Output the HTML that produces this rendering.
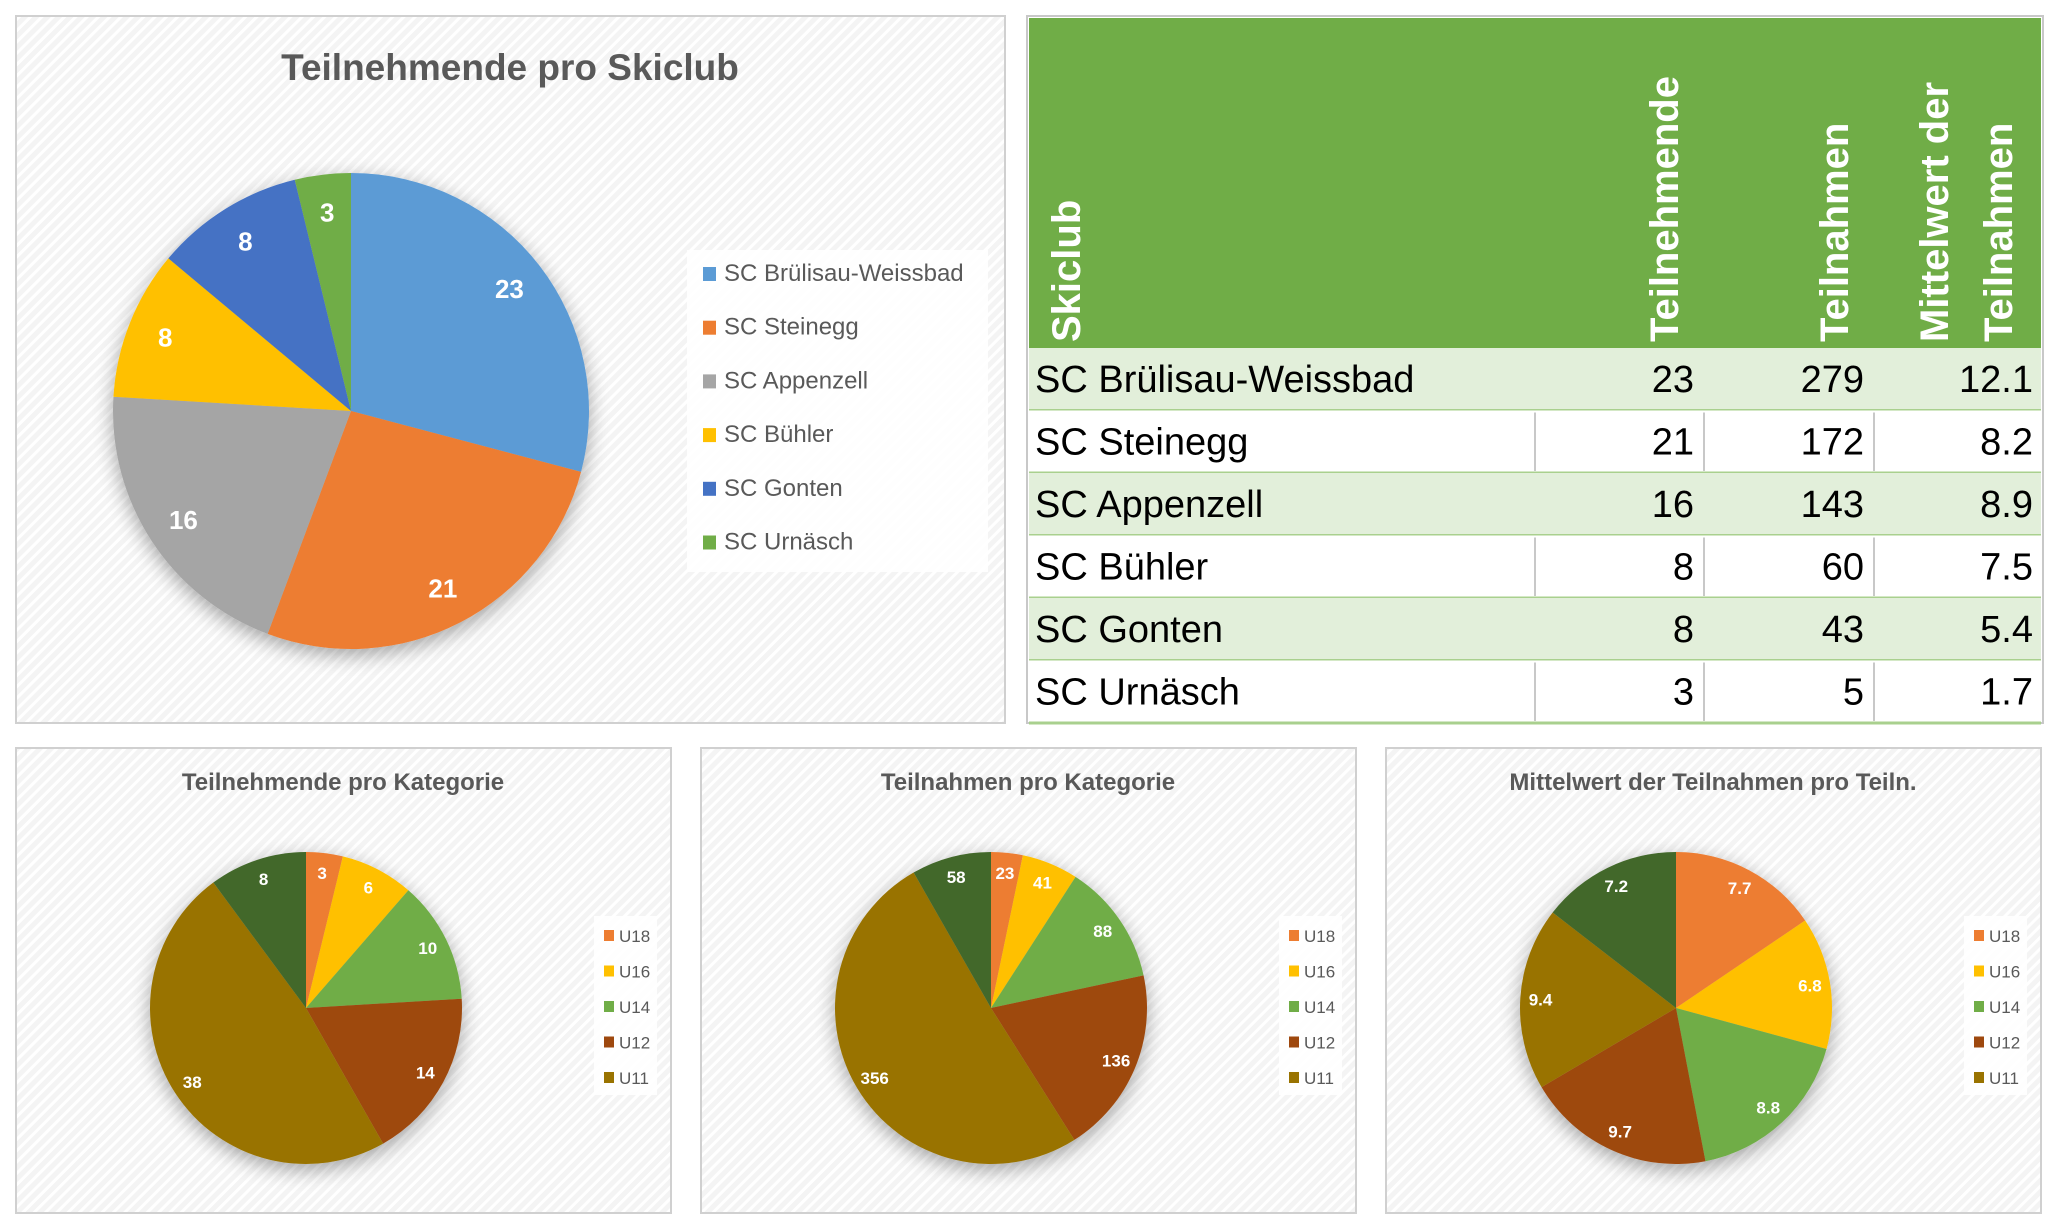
<!DOCTYPE html>
<html><head><meta charset="utf-8"><style>
html,body{margin:0;padding:0;background:#fff;}
svg{display:block;font-family:"Liberation Sans",sans-serif;}
</style></head><body>
<svg id="root" width="2060" height="1232" viewBox="0 0 2060 1232" xmlns="http://www.w3.org/2000/svg">
<defs>
<pattern id="hatch" width="8" height="8" patternUnits="userSpaceOnUse" patternTransform="rotate(-45)">
<rect width="8" height="8" fill="#f4f4f4"/><rect width="8" height="3" fill="#ffffff"/>
</pattern>
<filter id="shadow" x="-30%" y="-30%" width="160%" height="160%">
<feGaussianBlur in="SourceAlpha" stdDeviation="10"/><feOffset dx="0" dy="6"/>
<feComponentTransfer><feFuncA type="linear" slope="0.35"/></feComponentTransfer>
<feMerge><feMergeNode/><feMergeNode in="SourceGraphic"/></feMerge>
</filter>
</defs>

<g>
<rect x="16" y="16" width="989" height="707" fill="url(#hatch)" stroke="#d0d0d0" stroke-width="2"/>
<text x="510" y="80" text-anchor="middle" font-size="37" font-weight="bold" fill="#595959">Teilnehmende pro Skiclub</text>
<g id="mainPie" filter="url(#shadow)"></g>
<g id="mainLabels"></g>
<rect x="687" y="250" width="301" height="322" fill="#ffffff" opacity="0.85"/>
<g id="mainLegend"></g>
</g>

<g id="table"></g>

<g id="bottom"></g>
</svg>
<script>
const NS="http://www.w3.org/2000/svg";
const clubs=["SC Brülisau-Weissbad","SC Steinegg","SC Appenzell","SC Bühler","SC Gonten","SC Urnäsch"];
const teilnehmende=[23,21,16,8,8,3];
const teilnahmen=[279,172,143,60,43,5];
const mittelwert=["12.1","8.2","8.9","7.5","5.4","1.7"];
const clubColors=["#5B9BD5","#ED7D31","#A5A5A5","#FFC000","#4472C4","#70AD47"];

const categories=["U18","U16","U14","U12","U11",""];
const catTeilnehmende=[3,6,10,14,38,8];
const catTeilnahmen=[23,41,88,136,356,58];
const catMittelwert=[7.7,6.8,8.8,9.7,9.4,7.2];
const catColors=["#ED7D31","#FFC000","#70AD47","#9E480E","#997300","#43682B"];

function el(tag,attrs,parent){const e=document.createElementNS(NS,tag);for(const k in attrs)e.setAttribute(k,attrs[k]);if(parent)parent.appendChild(e);return e;}

function drawPie(g,lg,cx,cy,r,vals,colors,labels,fs,lf){
  const total=vals.reduce((a,b)=>a+b,0);let a0=-Math.PI/2;
  vals.forEach((v,i)=>{
    const a1=a0+v/total*2*Math.PI;
    const x0=cx+r*Math.cos(a0),y0=cy+r*Math.sin(a0),x1=cx+r*Math.cos(a1),y1=cy+r*Math.sin(a1);
    const large=(a1-a0)>Math.PI?1:0;
    const p=el('path',{d:`M${cx},${cy} L${x0},${y0} A${r},${r} 0 ${large} 1 ${x1},${y1} Z`,fill:colors[i]},g);
    
    
    const am=(a0+a1)/2;
    const t=el('text',{x:cx+r*lf*Math.cos(am),y:cy+r*lf*Math.sin(am)+fs*0.35,'text-anchor':'middle','font-size':fs,'font-weight':'bold',fill:'#ffffff'},lg);
    t.textContent=labels[i];
    
    
    a0=a1;
  });
}

drawPie(document.getElementById('mainPie'),document.getElementById('mainLabels'),351,411,238,teilnehmende,clubColors,teilnehmende.map(String),26,0.84);
const ml=document.getElementById('mainLegend');
clubs.forEach((c,i)=>{
  const y=275+i*53.7;
  const s=el('rect',{x:703,y:y-8,width:13,height:14,fill:clubColors[i]},ml);
  
  
  const t=el('text',{x:724,y:y+6,'font-size':24,fill:'#595959'},ml);
  t.textContent=c;
  
  
});

const tb=document.getElementById('table');
el('rect',{x:1027,y:16,width:1016,height:707,fill:'#ffffff',stroke:'#c8c8c8','stroke-width':2},tb);
const hdr=el('rect',{x:1029,y:18,width:1012,height:330,fill:'#70AD47'},tb);


const heads=[[1080,"Skiclub"],[1678,"Teilnehmende"],[1848,"Teilnahmen"],[1948,"Mittelwert der"],[2012,"Teilnahmen"]];
heads.forEach(h=>{
  const t=el('text',{x:h[0],y:342,'font-size':40,'font-weight':'bold',fill:'#ffffff',transform:`rotate(-90 ${h[0]} 342)`},tb);
  t.textContent=h[1];
  
  
});
const rowH=62.5, colX=[1027,1535,1704,1874,2043];
clubs.forEach((c,i)=>{
  const y=348+i*rowH;
  const shaded=i%2===0;
  const r=el('rect',{x:1029,y:y,width:1012,height:rowH,fill:shaded?'#E2EFDA':'#ffffff'},tb);
  
  
  el('line',{x1:1029,x2:2041,y1:y+rowH,y2:y+rowH,stroke:'#A9D08E','stroke-width':3},tb);
  if(!shaded){[1,2,3].forEach(k=>el('line',{x1:colX[k],x2:colX[k],y1:y+2,y2:y+rowH-2,stroke:'#c8c8c8','stroke-width':2},tb));}
  const ty=y+rowH*0.7;
  const n=el('text',{x:1035,y:ty,'font-size':38,fill:'#000000'},tb);n.textContent=c;
  
  
  [teilnehmende[i],teilnahmen[i],mittelwert[i]].forEach((v,k)=>{
    const t=el('text',{x:colX[k+2]-10,y:ty,'font-size':38,'text-anchor':'end',fill:'#000000'},tb);t.textContent=v;
    
    
  });
});

const bottom=document.getElementById('bottom');
const panels=[["Teilnehmende pro Kategorie",catTeilnehmende,catTeilnehmende.map(String)],
 ["Teilnahmen pro Kategorie",catTeilnahmen,catTeilnahmen.map(String)],
 ["Mittelwert der Teilnahmen pro Teiln.",catMittelwert,catMittelwert.map(String)]];
panels.forEach((p,i)=>{
  const ox=16+i*685;
  const g=el('g',{},bottom);
  
  
  el('rect',{x:ox,y:748,width:655,height:465,fill:'url(#hatch)',stroke:'#d0d0d0','stroke-width':2},g);
  const t=el('text',{x:ox+327,y:790,'text-anchor':'middle','font-size':24,'font-weight':'bold',fill:'#595959'},g);
  t.textContent=p[0];
  
  
  const pg=el('g',{filter:'url(#shadow)'},g);
  const lg=el('g',{},g);
  drawPie(pg,lg,ox+290,1008,156,p[1],catColors,p[2],17,0.87);
  el('rect',{x:ox+578,y:916,width:63,height:179,fill:'#ffffff',opacity:0.85},g);
  categories.slice(0,5).forEach((c,k)=>{
    const y=936+k*35.5;
    const s=el('rect',{x:ox+588,y:y-6,width:10,height:11,fill:catColors[k]},g);
    
    
    const lt=el('text',{x:ox+603,y:y+6,'font-size':17,fill:'#595959'},g);
    lt.textContent=c;
    
    
  });
});
</script>
</body></html>
